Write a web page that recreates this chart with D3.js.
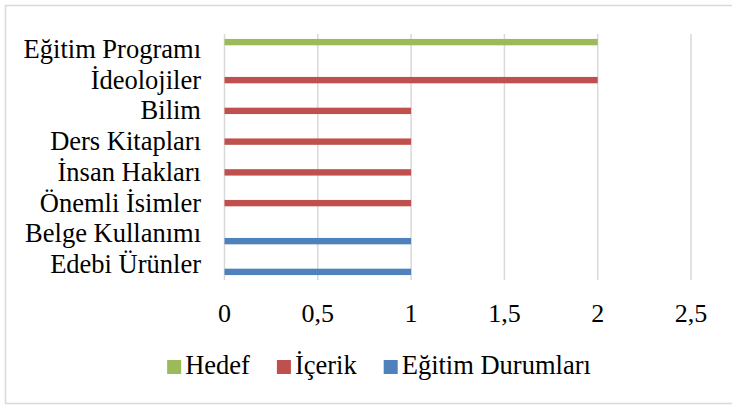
<!DOCTYPE html>
<html>
<head>
<meta charset="utf-8">
<script src="https://cdn.jsdelivr.net/npm/d3@7"></script>
<style>
  html, body { margin: 0; padding: 0; background: #fff; }
  svg { display: block; }
</style>
</head>
<body>
<svg id="chart" width="732" height="405"></svg>
<script>
const categories = ["Eğitim Programı", "İdeolojiler", "Bilim", "Ders Kitapları", "İnsan Hakları", "Önemli İsimler", "Belge Kullanımı", "Edebi Ürünler"];
const seriesNames = ["Hedef", "İçerik", "Eğitim Durumları"];
const hedef = [2, 0, 0, 0, 0, 0, 0, 0];
const icerik = [0, 2, 1, 1, 1, 1, 0, 0];
const egitimDurumlari = [0, 0, 0, 0, 0, 0, 1, 1];
const seriesColors = ["#9BBB59", "#C0504D", "#4F81BD"];
const xTicks = [0, 0.5, 1, 1.5, 2, 2.5];

const seriesValues = [hedef, icerik, egitimDurumlari];
const svg = d3.select("#chart");
const fontFamily = "'Liberation Serif', 'Times New Roman', Times, serif";

// outer border
svg.append("rect")
  .attr("x", 5.5).attr("y", 5.5)
  .attr("width", 740).attr("height", 398)
  .attr("fill", "none").attr("stroke", "#d9d9d9").attr("stroke-width", 1.5);

const x = d3.scaleLinear().domain([0, 2.5]).range([224.5, 691]);
const y0 = d3.scaleBand().domain(categories).range([34, 280]).padding(0);
const y1 = d3.scaleBand().domain(seriesNames).range([0, y0.bandwidth()])
  .paddingInner(0.12).paddingOuter(0.68);

// gridlines
svg.append("g").selectAll("line").data(xTicks).join("line")
  .attr("x1", d => x(d)).attr("x2", d => x(d))
  .attr("y1", 34).attr("y2", 280)
  .attr("stroke", "#d9d9d9").attr("stroke-width", 1.5);

// bars
const barData = [];
categories.forEach((c, i) => {
  seriesNames.forEach((s, j) => {
    const v = seriesValues[j][i];
    if (v > 0) barData.push({ c, s, v, color: seriesColors[j] });
  });
});
svg.append("g").selectAll("rect").data(barData).join("rect")
  .attr("x", x(0))
  .attr("y", d => y0(d.c) + y1(d.s))
  .attr("width", d => x(d.v) - x(0))
  .attr("height", y1.bandwidth())
  .attr("fill", d => d.color);

// category labels
svg.append("g").selectAll("text").data(categories).join("text")
  .attr("x", 201)
  .attr("y", d => y0(d) + y0.bandwidth() / 2)
  .attr("dy", "0.32em")
  .attr("text-anchor", "end")
  .attr("font-family", fontFamily)
  .attr("font-size", 26.5)
  .attr("fill", "#000")
  .text(d => d);

// x tick labels
svg.append("g").selectAll("text").data(xTicks).join("text")
  .attr("x", d => x(d))
  .attr("y", 322)
  .attr("text-anchor", "middle")
  .attr("font-family", fontFamily)
  .attr("font-size", 26)
  .attr("fill", "#000")
  .text(d => d3.format("")(d).replace(".", ","));

// legend
const legend = svg.append("g");
let cx = 0;
seriesNames.forEach((s, j) => {
  const g = legend.append("g");
  g.append("rect").attr("x", 0).attr("y", 360).attr("width", 14).attr("height", 14)
    .attr("fill", seriesColors[j]);
  const t = g.append("text").attr("x", 18).attr("y", 374)
    .attr("font-family", fontFamily)
    .attr("font-size", 26.5)
    .attr("fill", "#000")
    .text(s);
  const w = 18 + t.node().getComputedTextLength();
  g.attr("transform", `translate(${cx},0)`);
  cx += w + 27;
});
const totalW = cx - 27;
legend.attr("transform", `translate(${379 - totalW / 2},0)`);
</script>
</body>
</html>
